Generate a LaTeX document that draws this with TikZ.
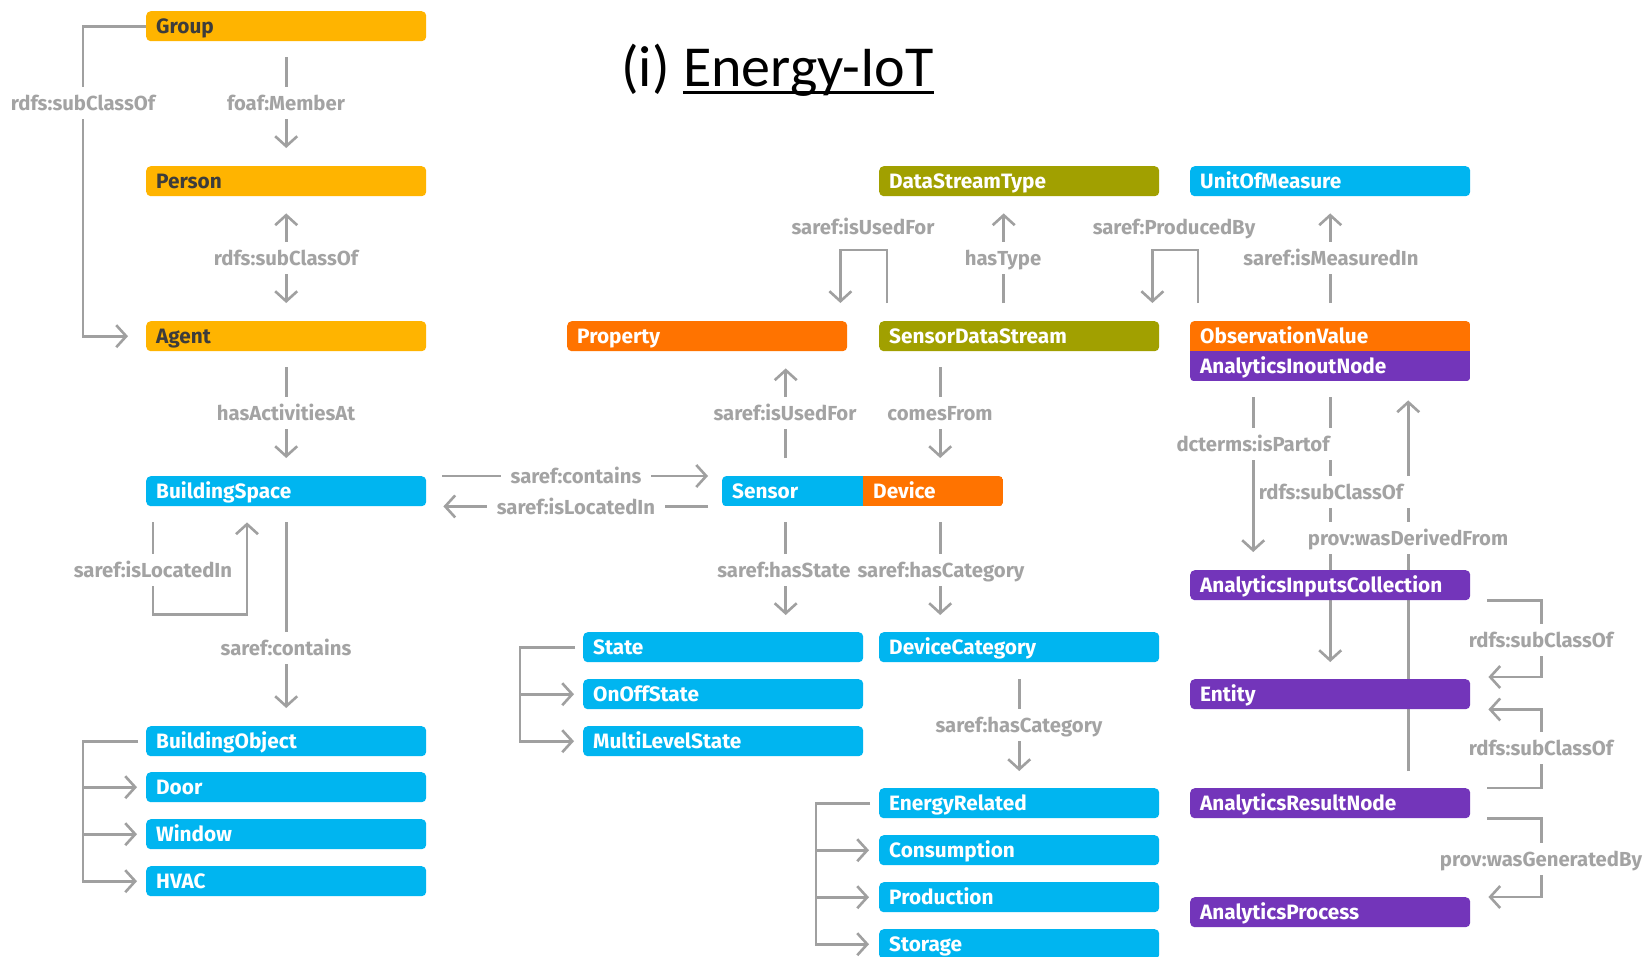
\documentclass[tikz,border=0pt]{standalone}
\usepackage{fontspec}
\setmainfont{Fira Sans}
\newfontfamily\bxfont{Fira Sans}
\newfontfamily\titlefont{Carlito}
\usetikzlibrary{arrows.meta,calc}
\pgfdeclarelayer{bg}\pgfdeclarelayer{mid}
\pgfsetlayers{bg,mid,main}
\definecolor{yel}{HTML}{FFB400}
\definecolor{blu}{HTML}{00B5F0}
\definecolor{org}{HTML}{FF7300}
\definecolor{olv}{HTML}{A1A000}
\definecolor{pur}{HTML}{7335BA}
\definecolor{ln}{HTML}{A0A0A0}
\definecolor{lbtxt}{HTML}{A3A3A3}
\definecolor{ytx}{HTML}{3C3C3C}
\tikzset{
  box/.style={anchor=north west, fill=#1, minimum width=280pt, minimum height=30pt,
    text width=260pt, inner xsep=10pt, inner ysep=7.85pt, text height=14.3pt, text depth=0pt,
    align=left, rounded corners=4.5pt, font=\bxfont\bfseries\fontsize{20.8}{24}\selectfont, text=white},
  conn/.style={draw=ln, line width=2.6pt},
  lbl/.style={fill=white, text=lbtxt, font=\bxfont\bfseries\fontsize{20.3}{24}\selectfont,
    inner xsep=4pt, inner ysep=9pt, text height=14pt, text depth=0pt},
  ttl/.style={font=\titlefont\fontsize{58}{66}\selectfont, inner sep=0pt, anchor=base west}
}
\begin{document}
\begin{tikzpicture}[x=1pt,y=-1pt,>={Straight Barb[length=10pt,width=22pt]}]
\useasboundingbox (0,0) rectangle (1646,956);
\begin{pgfonlayer}{bg}
\fill[white] (0,0) rectangle (1646,956);
\end{pgfonlayer}

% title
\node[ttl] (t1) at (621,86) {(i)};
\node[ttl] (t2) at ([xshift=13.1pt]t1.base east) {Energy-IoT};
\draw[line width=3.5pt] ([yshift=-6.5pt]t2.base west) -- ([yshift=-6.5pt]t2.base east);

% boxes
\node[box=yel,text=ytx] (grp) at (146,11) {Group};
\node[box=yel,text=ytx] (per) at (146,166) {Person};
\node[box=yel,text=ytx] (agt) at (146,321) {Agent};
\node[box=blu] (bs) at (146,476) {BuildingSpace};
\node[box=blu] (bo) at (146,726) {BuildingObject};
\node[box=blu] (door) at (146,772) {Door};
\node[box=blu] (win) at (146,819) {Window};
\node[box=blu] (hvac) at (146,866) {HVAC};
\node[box=org] (prop) at (567,321) {Property};
\node[box=olv] (dst) at (879,166) {DataStreamType};
\node[box=olv] (sds) at (879,321) {SensorDataStream};
\node[box=blu] (uom) at (1190,166) {UnitOfMeasure};
\node[box=none] (obs) at (1190,321) {ObservationValue};
\node[box=none] (ain) at (1190,351) {AnalyticsInoutNode};
\node[box=none, minimum width=141pt, text width=121pt] (sen) at (722,476) {Sensor};
\node[box=none, minimum width=140pt, text width=120pt] (dev) at (863,476) {Device};
\node[box=blu] (st) at (583,632) {State};
\node[box=blu] (onoff) at (583,679) {OnOffState};
\node[box=blu] (mls) at (583,726) {MultiLevelState};
\node[box=blu] (dc) at (879,632) {DeviceCategory};
\node[box=blu] (er) at (879,788) {EnergyRelated};
\node[box=blu] (cons) at (879,835) {Consumption};
\node[box=blu] (prod) at (879,882) {Production};
\node[box=blu] (stor) at (879,929) {Storage};
\node[box=pur] (aic) at (1190,570) {AnalyticsInputsCollection};
\node[box=pur] (ent) at (1190,679) {Entity};
\node[box=pur] (arn) at (1190,788) {AnalyticsResultNode};
\node[box=pur] (ap) at (1190,897) {AnalyticsProcess};

\begin{pgfonlayer}{mid}
\begin{scope}
  \clip[rounded corners=4.5pt] (sen.north west) rectangle (dev.south east);
  \fill[blu] (sen.north west) rectangle (sen.south east);
  \fill[org] (dev.north west) rectangle (dev.south east);
\end{scope}
\begin{scope}
  \clip[rounded corners=4.5pt] (obs.north west) rectangle (ain.south east);
  \fill[org] (obs.north west) rectangle (obs.south east);
  \fill[pur] (ain.north west) rectangle (ain.south east);
\end{scope}
\end{pgfonlayer}

\coordinate (lx1) at (83,0);
\coordinate (lx2) at (520,0);
\coordinate (lx3) at (816,0);

\begin{pgfonlayer}{bg}
\draw[conn,->,shorten >=18pt] (grp.west) -- (grp.west -| lx1) |- (agt.west);
\draw[conn,->,shorten <=16pt,shorten >=18pt] (grp.south) -- (per.north);
\draw[conn,<->,shorten <=17pt,shorten >=18pt] (per.south) -- (agt.north);
\draw[conn,->,shorten <=16pt,shorten >=18pt] (agt.south) -- (bs.north);
\draw[conn,->,shorten <=16pt,shorten >=16pt] ([xshift=7pt]bs.south west) -- ++(0,108) -| ([xshift=101pt]bs.south west);
\draw[conn,->,shorten <=16pt,shorten >=18pt] (bs.south) -- (bo.north);
\draw[conn,->,shorten <=8pt,shorten >=9pt] (bo.west) -- (bo.west -| lx1) |- (hvac.west);
\draw[conn,->,shorten >=9pt] (door.west -| lx1) -- (door.west);
\draw[conn,->,shorten >=9pt] (win.west -| lx1) -- (win.west);
\draw[conn,->,shorten <=16pt,shorten >=14pt] (bs.north east) -- (sen.north west);
\draw[conn,->,shorten <=14pt,shorten >=17pt] (sen.south west) -- (bs.south east);
\draw[conn,->,shorten <=18pt,shorten >=17pt] ([xshift=-7pt]sen.north) -- ([xshift=-7pt]sen.north |- prop.south);
\draw[conn,->,shorten <=16pt,shorten >=18pt] ([xshift=7pt]dev.north |- sds.south) -- ([xshift=7pt]dev.north);
\draw[conn,->,shorten <=16pt,shorten >=17pt] ([xshift=-7pt]sen.south) -- ([xshift=-7pt]sen.south |- st.north);
\draw[conn,->,shorten <=16pt,shorten >=17pt] ([xshift=7pt]dev.south) -- ([xshift=7pt]dev.south |- dc.north);
\draw[conn,->,shorten <=8pt,shorten >=9pt] (st.west) -- (st.west -| lx2) |- (mls.west);
\draw[conn,->,shorten >=9pt] (onoff.west -| lx2) -- (onoff.west);
\draw[conn,->,shorten <=17pt,shorten >=17pt] (dc.south) -- (er.north);
\draw[conn,->,shorten <=9pt,shorten >=10pt] (er.west) -- (er.west -| lx3) |- (stor.west);
\draw[conn,->,shorten >=10pt] (cons.west -| lx3) -- (cons.west);
\draw[conn,->,shorten >=10pt] (prod.west -| lx3) -- (prod.west);
\draw[conn,->,shorten <=18pt,shorten >=18pt] ([xshift=8pt]sds.north west) -- ++(0,-71) -| ([xshift=-7pt]prop.north east);
\draw[conn,->,shorten <=18pt,shorten >=17pt] ([xshift=-15.5pt]sds.north) -- ([xshift=-15.5pt]dst.south);
\draw[conn,->,shorten <=18pt,shorten >=18pt] ([xshift=8pt]obs.north west) -- ++(0,-71) -| ([xshift=-7pt]sds.north east);
\draw[conn,->,shorten <=18pt,shorten >=17pt] (obs.north) -- (uom.south);
\draw[conn,->,shorten <=16pt,shorten >=17pt] (ain.south) -- (ent.north);
\draw[conn,->,shorten <=17pt,shorten >=19pt] ([xshift=78pt]arn.north) -- ([xshift=78pt]ain.south);
\draw[conn,->,shorten <=17pt,shorten >=18pt] (aic.south east) -- ++(71,0) |- ([yshift=2pt]ent.north east);
\draw[conn,->,shorten <=17pt,shorten >=18pt] (arn.north east) -- ++(71,0) |- (ent.south east);
\draw[conn,->,shorten <=17pt,shorten >=18pt] (arn.south east) -- ++(71,0) |- (ap.north east);

% labels
\node[lbl] (l1) at (83,103) {rdfs:subClassOf};
\node[lbl] (l2) at (286,103) {foaf:Member};
\node[lbl] (l3) at (286,258) {rdfs:subClassOf};
\node[lbl] (l4) at (286,413) {hasActivitiesAt};
\node[lbl] (l5) at (153,570) {saref:isLocatedIn};
\node[lbl] (l6) at (286,648) {saref:contains};
\node[lbl,inner xsep=10pt] (l7) at (576,476) {saref:contains};
\node[lbl,inner xsep=10pt] (l8) at (576,507) {saref:isLocatedIn};
\node[lbl] (l9) at (785,413) {saref:isUsedFor};
\node[lbl] (l10) at (940,413) {comesFrom};
\node[lbl,inner xsep=2pt] (l11) at (784,570) {saref:hasState};
\node[lbl,inner xsep=2pt] (l12) at (941,570) {saref:hasCategory};
\node[lbl] (l13) at (1019,725) {saref:hasCategory};
\node[lbl] (l14) at (863,227) {saref:isUsedFor};
\node[lbl] (l15) at (1003,258) {hasType};
\node[lbl] (l16) at (1174,227) {saref:ProducedBy};
\node[lbl] (l17) at (1331,258) {saref:isMeasuredIn};
\node[lbl,inner xsep=8pt] (l18) at (1331,492) {rdfs:subClassOf};
\node[lbl] (l19) at (1408,538) {prov:wasDerivedFrom};
\node[lbl] (l20) at (1541,640) {rdfs:subClassOf};
\node[lbl] (l21) at (1541,748) {rdfs:subClassOf};
\node[lbl] (l22) at (1541,859) {prov:wasGeneratedBy};
\draw[conn,->,shorten <=16pt,shorten >=18pt] ([xshift=-77pt]ain.south) -- ([xshift=-77pt]aic.north);
\node[lbl,inner xsep=6pt] (l23) at (1253,444) {dcterms:isPartof};
\end{pgfonlayer}
\end{tikzpicture}
\end{document}
